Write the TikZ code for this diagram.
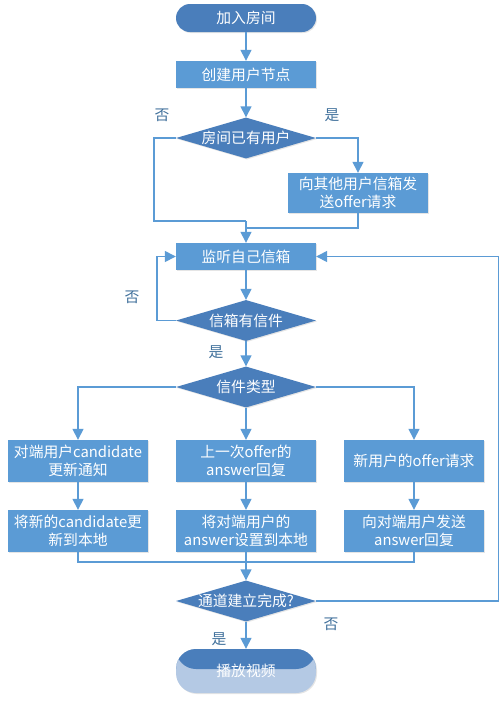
\documentclass[tikz,border=0pt]{standalone}
\usepackage{fontspec}
\newfontfamily\cjk{Noto Sans CJK SC}
\usetikzlibrary{arrows.meta,shapes.geometric,shadows}
\usepackage{xcolor}
\definecolor{boxblue}{HTML}{5B9BD5}
\definecolor{darkblue}{HTML}{4A7EBB}
\definecolor{paleblue}{HTML}{B4C9E4}
\definecolor{labelblue}{HTML}{41719C}
\newcommand\nowidth[1]{\makebox[0pt]{#1}}
\tikzset{
  soft/.style = {drop shadow={opacity=.2, shadow xshift=1pt, shadow yshift=-1pt}},
  stepbox/.style = {rectangle, fill=boxblue, soft, text=white, font=\cjk\fontsize{14.8}{17.5}\selectfont,
    minimum width=140pt, minimum height=27pt, inner sep=1pt, align=center},
  tallbox/.style = {stepbox, minimum height=42pt},
  decision/.style = {diamond, fill=darkblue, soft, text=white, font=\cjk\fontsize{14.8}{17.5}\selectfont,
    minimum width=140pt, minimum height=41pt, inner sep=0pt},
  terminal/.style = {rectangle, rounded corners=14pt, fill=darkblue, soft, text=white,
    font=\cjk\fontsize{14.8}{17.5}\selectfont, minimum width=140pt, minimum height=28pt},
  line/.style = {draw=boxblue, line width=1.4pt},
  flow/.style = {line, -{Triangle[width=11pt,length=11pt]}},
  answer/.style = {text=labelblue, font=\cjk\fontsize{14.8}{17.5}\selectfont},
}

\begin{document}
\begin{tikzpicture}[x=1pt, y=-1pt]
\useasboundingbox[fill=white] (0,0) rectangle (500,705);

\node (start)[terminal] at (246,18) {加入房间};
\node (mk)[stepbox] at (246,74.5) {创建用户节点};
\node (has)[decision] at (246,138) {\nowidth{房间已有用户}};
\node (ask)[tallbox, minimum height=40pt] at (358,193) {向其他用户信箱发\\送offer请求};
\node (lis)[stepbox] at (246,256.5) {监听自己信箱};
\node (mail)[decision] at (246,320.5) {\nowidth{信箱有信件}};
\node (kind)[decision] at (246,387) {\nowidth{信件类型}};

\node (c1)[tallbox] at (78,461)  {对端用户candidate\\更新通知};
\node (c2)[tallbox] at (246,461) {上一次offer的\\answer回复};
\node (c3)[tallbox] at (414,461) {新用户的offer请求};
\node (d1)[tallbox] at (78,531)  {将新的candidate更\\新到本地};
\node (d2)[tallbox] at (246,531) {将对端用户的\\answer设置到本地};
\node (d3)[tallbox] at (414,531) {向对端用户发送\\answer回复};

\node (done)[decision] at (246,601) {\nowidth{通道建立完成?}};
\node (play)[terminal, rounded corners=20pt, minimum height=44pt, fill=paleblue,
  path picture={\fill[darkblue] (path picture bounding box.north west)
    rectangle ([yshift=2pt]path picture bounding box.east);}] at (246,671) {播放视频};

\coordinate (jl) at (246,221);
\coordinate (jr) at (246,228);
\coordinate (jb) at (246,562);

\draw[flow] (start) -- (mk);
\draw[flow] (mk) -- (has);
\draw[line] (has.west) -- ++(-22,0) |- (jl);
\draw[flow] (has.east) -| (ask.north);
\draw[line] (ask.south) |- (jr);
\draw[flow] (jl) -- (lis.north);
\draw[flow] (lis) -- (mail);
\draw[flow] (mail.west) -- ++(-19,0) |- (lis.west);
\draw[flow] (mail) -- (kind);

\draw[flow] (kind.west) -| (c1.north);
\draw[flow] (kind) -- (c2);
\draw[flow] (kind.east) -| (c3.north);
\foreach \i in {1,2,3} \draw[flow] (c\i) -- (d\i);

\draw[line] (d1.south) |- (jb) -| (d3.south);
\draw[flow] (d2) -- (done);
\draw[flow] (done.east) -- ++(182,0) |- (lis.east);
\draw[flow] (done) -- (play);

\path (162,115) node[answer]{否}
      (332,115) node[answer]{是}
      (132,297) node[answer]{否}
      (216,352) node[answer]{是}
      (331,624) node[answer]{否}
      (219,639) node[answer]{是}
;

\end{tikzpicture}
\end{document}
